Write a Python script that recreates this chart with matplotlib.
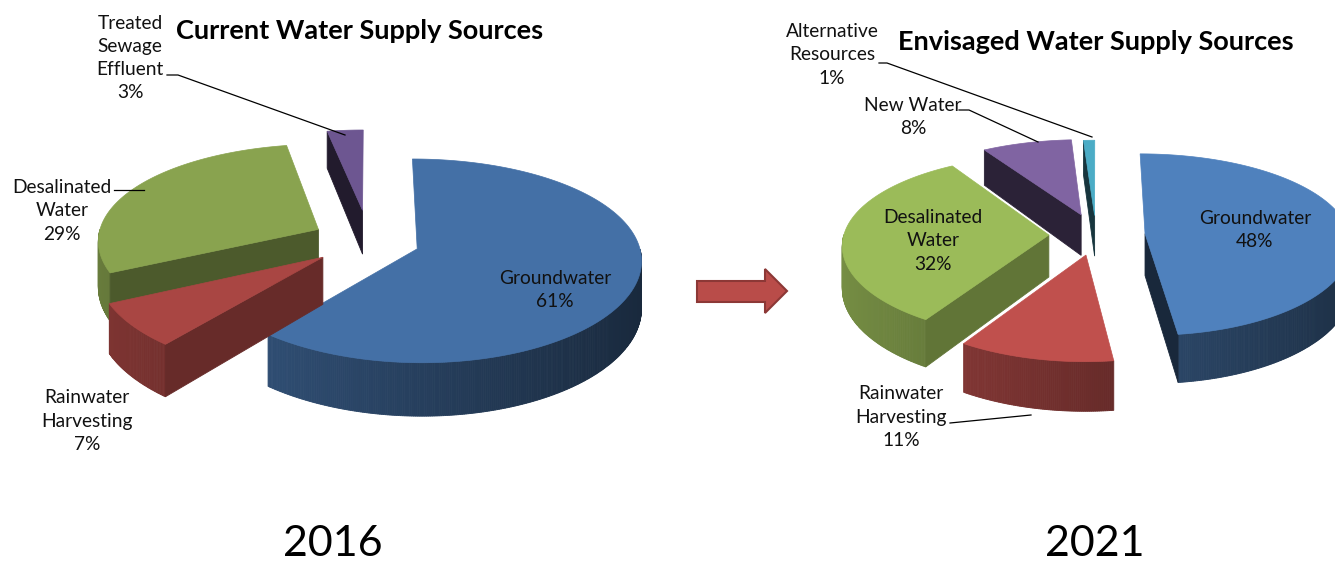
import numpy as np
import matplotlib
matplotlib.use('Agg')
import matplotlib.pyplot as plt
from matplotlib.patches import Polygon
from matplotlib.colors import to_rgb

# data
labels_2016 = ['Groundwater', 'Rainwater\nHarvesting', 'Desalinated\nWater', 'Treated\nSewage\nEffluent']
values_2016 = [61, 7, 29, 3]
colors_2016 = ['#4470a6', '#a94643', '#89a34f', '#6d5691']
explode_2016 = [0.23, 0.26, 0.26, 0.32]

labels_2021 = ['Groundwater', 'Rainwater\nHarvesting', 'Desalinated\nWater', 'New Water', 'Alternative\nResources']
values_2021 = [48, 11, 32, 8, 1]
colors_2021 = ['#4f81bd', '#c0504d', '#9bbb59', '#8064a2', '#4bacc6']
explode_2021 = [0.24, 0.22, 0.23, 0.24, 0.22]

titles = ['Current Water Supply Sources', 'Envisaged Water Supply Sources']
years = ['2016', '2021']

FONT = ['Lato', 'DejaVu Sans']


# fake 3d pie: (cx, cy, rx, ry, depth, kx, ky, kd) in pixels
def proj(u, v, g, z=0):
    cx, cy, rx, ry, depth, kx, ky, kd = g
    x = cx + rx * u * (1 + kx * v)
    y = cy + ry * v * (1 + ky * v) + z * depth * (1 + kd * v)
    return x, y


def draw_pie(ax, values, colors, explode, g):
    total = float(sum(values))
    ang = 0
    pieces = []
    for val, col, e in zip(values, colors, explode):
        a0 = ang
        a1 = ang + 360 * val / total
        ang = a1
        b = np.radians((a0 + a1) / 2)
        ou, ov = e * np.sin(b), -e * np.cos(b)
        pieces.append((ov, a0, a1, ou, col))
    # back to front
    for ov, a0, a1, ou, col in sorted(pieces):
        n = max(int((a1 - a0) * 2), 4)
        th = np.radians(np.linspace(a0, a1, n))
        us = ou + np.sin(th)
        vs = ov - np.cos(th)
        base = np.array(to_rgb(col))
        # outer rim
        for i in range(n - 1):
            mid = (th[i] + th[i + 1]) / 2
            if np.cos(mid) < 0:
                f = 0.56 - 0.2 * np.sin(mid)
                c = np.clip(base * f, 0, 1)
                quad = [proj(us[i], vs[i], g), proj(us[i + 1], vs[i + 1], g),
                        proj(us[i + 1], vs[i + 1], g, 1), proj(us[i], vs[i], g, 1)]
                ax.add_patch(Polygon(quad, closed=True, fc=c, ec=c, lw=0.6))
        # cut faces
        for a, sgn in ((a0, -1), (a1, 1)):
            t = np.radians(a)
            if sgn * np.sin(t) > 1e-6:
                eu, ev = ou + np.sin(t), ov - np.cos(t)
                nu = sgn * np.cos(t)
                c = np.clip(base * (0.48 + 0.17 * nu), 0, 1)
                quad = [proj(ou, ov, g), proj(eu, ev, g), proj(eu, ev, g, 1), proj(ou, ov, g, 1)]
                ax.add_patch(Polygon(quad, closed=True, fc=c, ec=c, lw=0.6))
        # top
        top = [proj(ou, ov, g)] + [proj(u, v, g) for u, v in zip(us, vs)]
        ax.add_patch(Polygon(top, closed=True, fc=base, ec=base, lw=0.5))


fig = plt.figure(figsize=(13.35, 5.68), dpi=100)
ax = fig.add_axes([0, 0, 1, 1])
ax.set_xlim(0, 1335)
ax.set_ylim(568, 0)
ax.axis('off')

geo_2016 = (369, 241, 221, 100, 46, 0.1, 0.12, 0.15)
geo_2021 = (1096, 235, 205, 91, 42, 0.1, 0.12, 0.15)
draw_pie(ax, values_2016, colors_2016, explode_2016, geo_2016)
draw_pie(ax, values_2021, colors_2021, explode_2021, geo_2021)

# labels
pos_2016 = [(555, 290), (87, 421), (62, 211), (130, 58)]
pos_2021 = [(1255, 230), (901, 417), (933, 241), (913, 117), (832, 55)]
for labs, vals, pos in ((labels_2016, values_2016, pos_2016), (labels_2021, values_2021, pos_2021)):
    for lab, val, (x, y) in zip(labs, vals, pos):
        ax.text(x, y, '%s\n%d%%' % (lab, val), ha='center', va='center', fontsize=13.8,
                family=FONT, color='#111111', linespacing=1.45)

# leader lines
leaders = [
    [(167, 75), (178, 75), (345, 135)],
    [(114, 190), (144, 190)],
    [(879, 63), (887, 63), (1092, 137)],
    [(959, 110), (969, 110), (1038, 142)],
    [(950, 423), (1031, 415)],
]
for pts in leaders:
    xs, ys = zip(*pts)
    ax.plot(xs, ys, color='black', lw=0.9)

# titles
ax.text(360, 31, titles[0], ha='center', va='center', fontsize=19.5, fontweight='bold', family=FONT)
ax.text(1096, 42, titles[1], ha='center', va='center', fontsize=19.5, fontweight='bold', family=FONT)

# arrow
arrow = [(697, 281), (765, 281), (765, 269), (787, 291), (765, 313), (765, 302), (697, 302)]
ax.add_patch(Polygon(arrow, closed=True, fc='#b94c49', ec='#8c3836', lw=1.5))

# years
ax.text(333, 544, years[0], ha='center', va='center', fontsize=31, family=FONT)
ax.text(1095, 544, years[1], ha='center', va='center', fontsize=31, family=FONT)

fig.savefig('out.png', dpi=100)
